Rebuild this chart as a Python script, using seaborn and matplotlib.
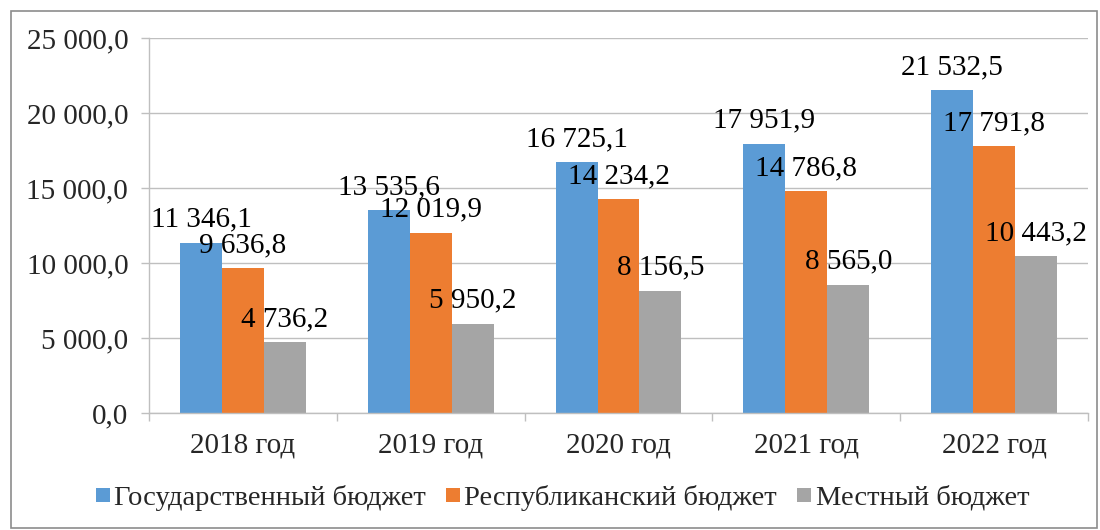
import pandas as pd
import matplotlib.pyplot as plt
import seaborn as sns
from matplotlib.patches import Rectangle
from matplotlib.lines import Line2D

# --------------------------
# Data
# --------------------------
years = ['2018 год', '2019 год', '2020 год', '2021 год', '2022 год']
series = ['Государственный бюджет', 'Республиканский бюджет', 'Местный бюджет']
gos_budget = [11346.1, 13535.6, 16725.1, 17951.9, 21532.5]
resp_budget = [9636.8, 12019.9, 14234.2, 14786.8, 17791.8]
local_budget = [4736.2, 5950.2, 8156.5, 8565.0, 10443.2]
y_ticks = [0, 5000, 10000, 15000, 20000, 25000]

colors = ['#5B9BD5', '#ED7D31', '#A5A5A5']

df = pd.DataFrame({
    'year': years * 3,
    'series': [s for s in series for _ in years],
    'value': gos_budget + resp_budget + local_budget,
})


def fmt(v):
    return f'{v:,.1f}'.replace(',', ' ').replace('.', ',')


sns.set_style('white')
plt.rcParams['font.family'] = ['Liberation Serif', 'DejaVu Serif']
FS = 21

fig = plt.figure(figsize=(11, 5.3), dpi=100)
ax = fig.add_axes([149 / 1100, 1 - 413 / 530, (1088 - 149) / 1100, (413 - 38) / 530])

sns.barplot(data=df, x='year', y='value', hue='series', palette=colors,
            width=0.67, saturation=1, linewidth=0, ax=ax, legend=False)

ax.set_ylim(0, 25000)
ax.set_xlim(-0.5, 4.5)
ax.set_yticks(y_ticks)
ax.set_yticklabels([fmt(t) for t in y_ticks], fontsize=FS)
ax.set_xlabel('')
ax.set_ylabel('')
ax.grid(axis='y', color='#BFBFBF', linewidth=1)
ax.set_axisbelow(True)
for side in ['top', 'right']:
    ax.spines[side].set_visible(False)
for side in ['left', 'bottom']:
    ax.spines[side].set_color('#BFBFBF')
    ax.spines[side].set_linewidth(1)

ax.tick_params(axis='y', length=6, width=1, color='#BFBFBF', pad=9, left=True)
ax.tick_params(axis='x', which='major', length=0, pad=14, labelsize=FS)
ax.set_xticks([i + 0.5 for i in range(-1, 5)], minor=True)
ax.tick_params(axis='x', which='minor', length=6, width=1, color='#BFBFBF', bottom=True)

# value labels, baseline ~16 px above each bar
for container in ax.containers:
    for bar in container:
        h = bar.get_height()
        ax.annotate(fmt(h), (bar.get_x() + bar.get_width() / 2, h),
                    xytext=(0, 16 * 72 / fig.dpi), textcoords='offset points',
                    ha='center', va='baseline', fontsize=FS, color='black')

handles = [Line2D([0], [0], marker='s', linestyle='', markersize=10,
                  markerfacecolor=c, markeredgewidth=0) for c in colors]
fig.legend(handles, series, loc='center', bbox_to_anchor=(561 / 1100, 1 - 498 / 530),
           ncol=3, frameon=False, fontsize=20.5, handletextpad=0.05,
           columnspacing=0.6, handlelength=0.7)

fig.patches.append(Rectangle((11 / 1100, 2 / 530), 1086 / 1100, 517 / 530,
                             transform=fig.transFigure, fill=False,
                             edgecolor='#8C8C8C', linewidth=1.2))

fig.savefig('out.png', dpi=100)
